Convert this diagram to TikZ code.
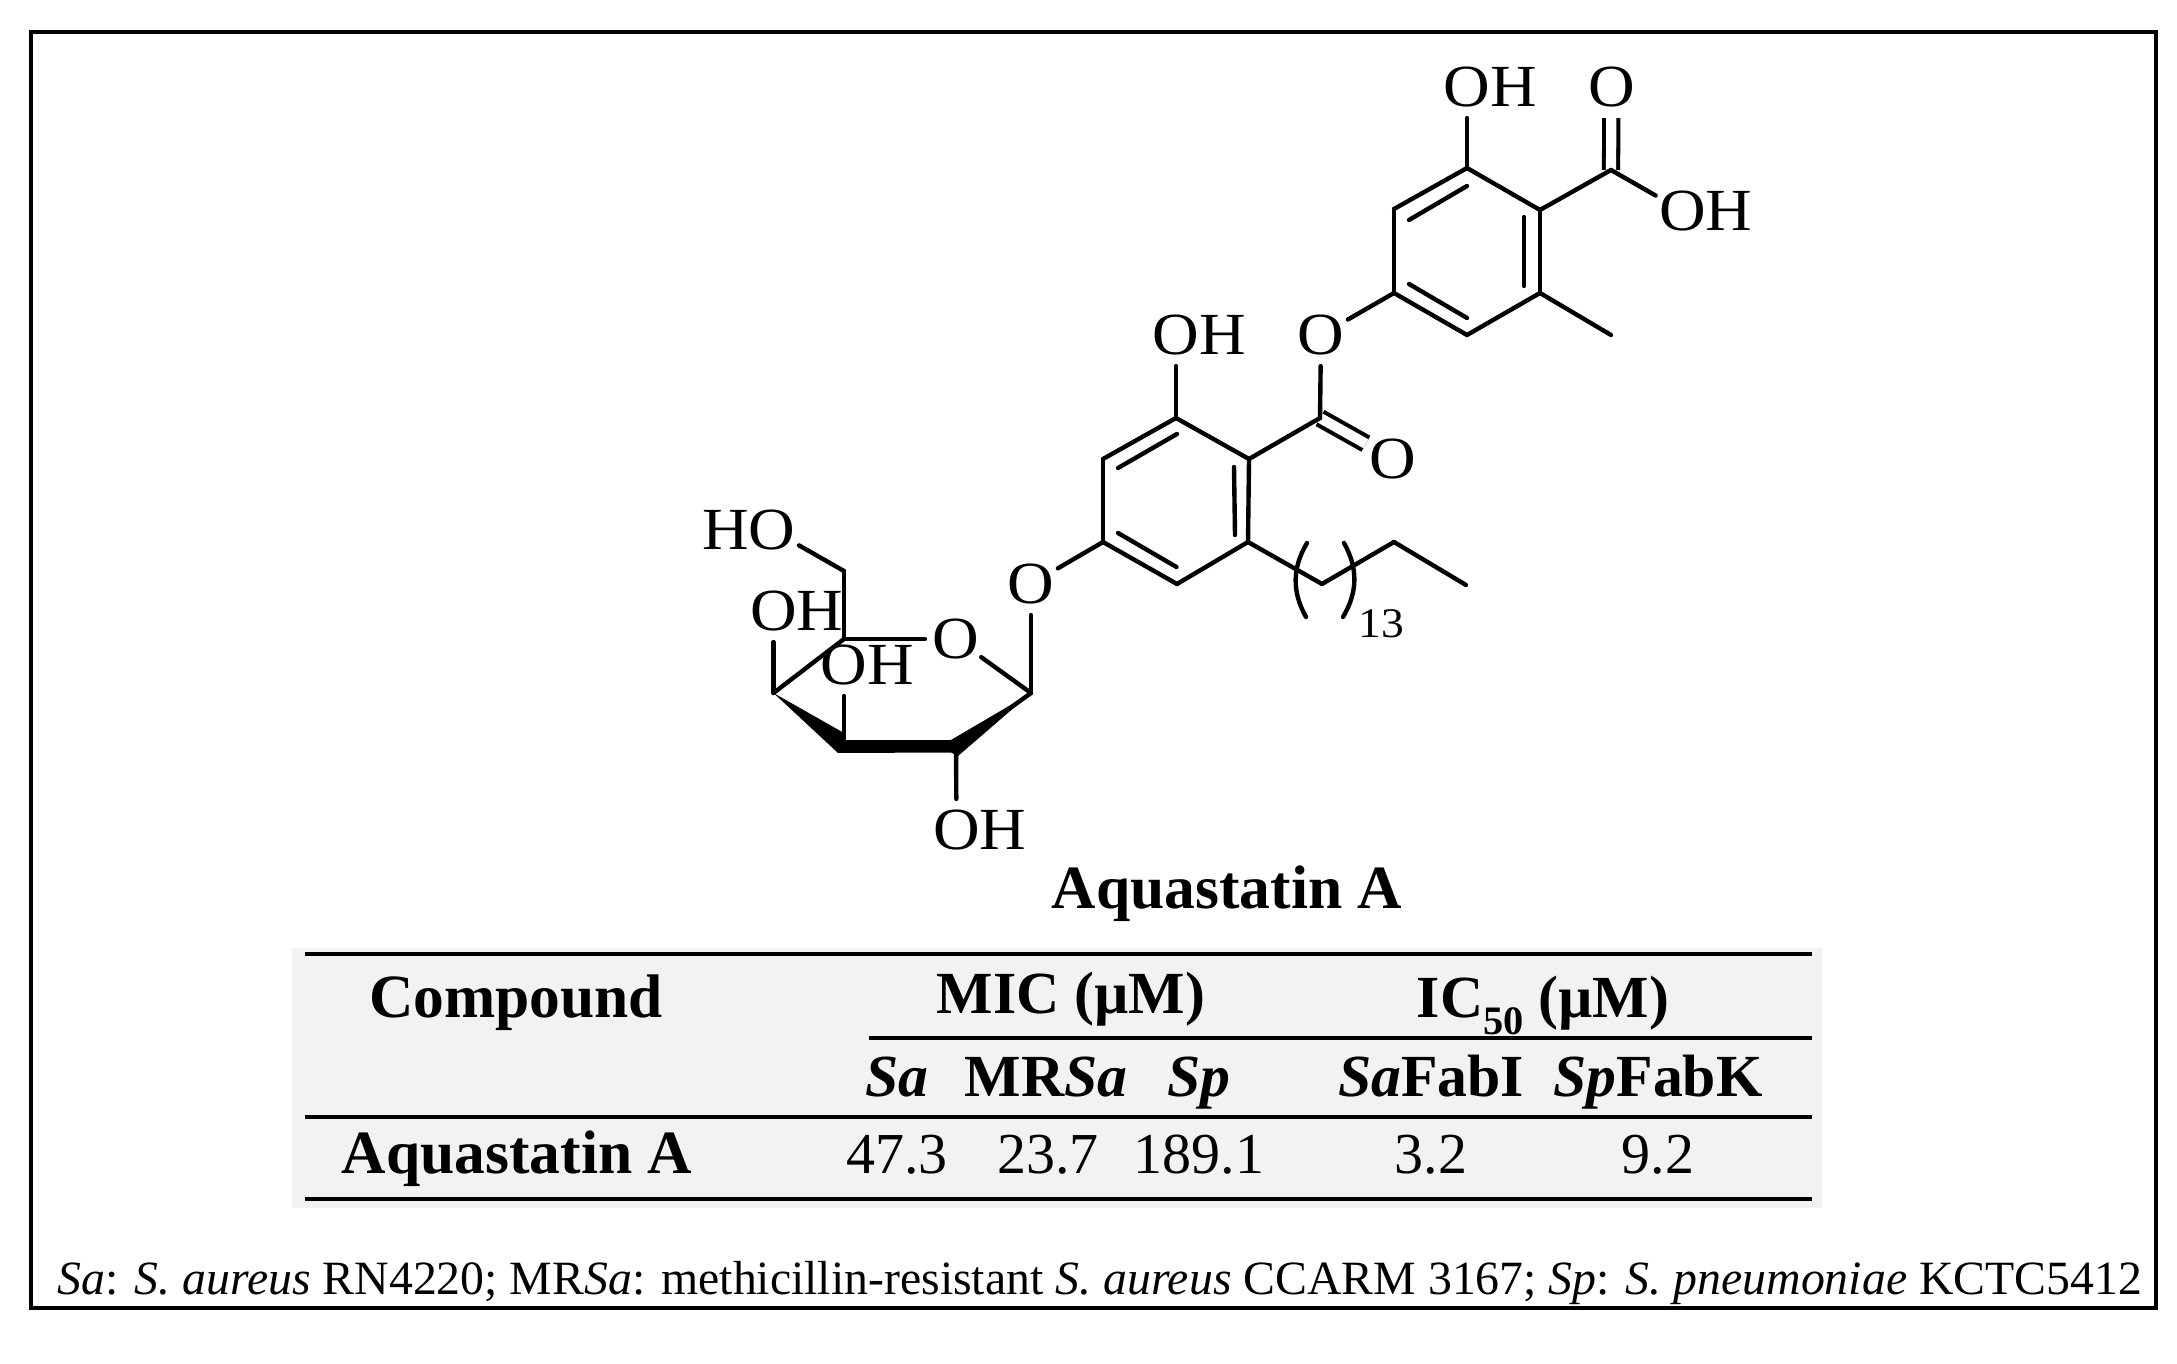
\documentclass[tikz,border=0pt]{standalone}
\usepackage{fontspec}
\setmainfont{Liberation Serif}
\newfontfamily\chemfont[FakeStretch=1.08]{Liberation Serif}
\tikzset{
  bond/.style={line width=2.5pt,line cap=round},
  dbl/.style={line width=2.3pt,double,double distance=5.8pt},
  rule/.style={line width=2.8pt},
  atom/.style={circle,inner sep=0pt,minimum size=1.12cm,font=\fontsize{34}{34}\chemfont},
  cell/.style={anchor=base,inner sep=0pt,font=\fontsize{33}{33}\selectfont},
  head/.style={cell,font=\fontsize{34}{34}\selectfont\bfseries},
  headbig/.style={cell,font=\fontsize{35}{35}\selectfont\bfseries}
}
\begin{document}
\begin{tikzpicture}[x=0.02cm,y=-0.02cm]
    \useasboundingbox (0,0) rectangle (2177,1364);
    \def\us{1467/168,1540/210,1540/293,1467/335,1394/293,1394/209,1611/335,1611/170,1176/418,1249/459,1248/542,1177/584,1103/542,1103/459,1320/418,1322/584,1394/542,1466/585,1031/693,956/747,844/747,773.5/693,844/639,844/571}
    %        1..6 top ring, 7 methyl, 8 acid, 9..14 lower ring, 15 ester, 16..18 chain, 19..24 sugar
    \foreach \ux/\uy [count=\i from 1] in \us {\coordinate (c\i) at (\ux,\uy);}
    \def\ins{1409/220,1467/186,1524/217,1524/286,1409/284,1467/318,1118/468,1177/434,1234/467,1235/535,1118/533,1176.5/567}
    \foreach \ux/\uy [count=\i from 1] in \ins {\coordinate (d\i) at (\ux,\uy);}
    \fill[gray!10] (292,948) rectangle (1822,1208);
    \draw[rule] (31,32) rectangle (2156,1308);
    % oxygens
    \node[atom] (o1) at (1467,87) {O\rlap{H}};
    \node[atom] (o2) at (1611.5,87) {O};
    \node[atom] (o3) at (1682.6,211) {O\rlap{H}};
    \node[atom] (o4) at (1176,335) {O\rlap{H}};
    \node[atom] (o5) at (1321,335) {O};
    \node[atom] (o6) at (1393,459) {O};
    \node[atom] (o7) at (1031,584) {O};
    \node[atom] (o8) at (772,530) {\llap{H}O};
    \node[atom] (o9) at (956,639) {O};
    \node[atom] (o10) at (773.5,611) {O\rlap{H}};
    \node[atom] (o11) at (844,665) {O\rlap{H}};
    \node[atom] (o12) at (956.5,830) {O\rlap{H}};
    \draw[dbl] (c8)--(o2);
    \draw[dbl] (c15)--(o6);
    \foreach \a/\b in {1/2,2/3,3/4,4/5,5/6,6/1,3/7,2/8,9/10,10/11,11/12,12/13,13/14,14/9,10/15,11/16,16/17,17/18,19/20,22/23,23/24}
      \draw[bond] (c\a)--(c\b);
    \foreach \a/\b in {1/2,3/4,5/6,7/8,9/10,11/12}
      \draw[bond] (d\a)--(d\b);
    \foreach \a/\b in {1/1,8/3,9/4,15/5,5/5,13/7,24/8,23/9,19/9,19/7,22/10,21/11,20/12}
      \draw[bond] (c\a)--(o\b);
    % bold front of the ring
    \fill (c22)--(844,733)--(844,740)--(951,740)--(c19)--(958,756)--(951,752.5)--(838,753)--cycle;
    % brackets of the chain
    \coordinate (p1) at (1307,543); \coordinate (p2) at (1306,617);
    \coordinate (p3) at (1344,543); \coordinate (p4) at (1343,617);
    \draw[bond] (p1) to[bend right=30] (p2);
    \draw[bond] (p3) to[bend left=30] (p4);
    \node[cell,font=\fontsize{24}{24}\chemfont] (n13) at (1381.5,638) {13};
    \node[headbig] (title) at (1227,908) {Aquastatin A};
    % table
    \foreach \y/\a/\b [count=\i from 1] in {954/305/1812,1038/869/1812,1117/305/1812,1199/305/1812} {
      \coordinate (r\i) at (\a,\y); \coordinate (s\i) at (\b,\y);
      \draw[rule] (r\i)--(s\i);}
    \node[headbig] (h1) at (516,1017) {Compound};
    \node[head] (h2) at (1071,1013) {MIC (µM)};
    \node[head] (h3) at (1543,1017) {IC\raisebox{-10pt}{\fontsize{23}{23}\selectfont 50} (µM)};
    \foreach \x/\t [count=\i from 1] in {897/\textit{Sa},1046/MR\textit{Sa},1199/\textit{Sp},1431/\textit{Sa}FabI,1658/\textit{Sp}FabK}
      \node[head] (t\i) at (\x,1096) {\t};
    \node[headbig] (a0) at (517,1173) {Aquastatin A};
    \foreach \x/\t [count=\i from 1] in {897/47.3,1048/23.7,1199/189.1,1431/3.2,1658/9.2}
      \node[cell] (a\i) at (\x,1173) {\t};
    \node[cell,font=\fontsize{27.2}{27.2}\selectfont] (note) at (1100,1294) {\textit{Sa}: \textit{S. aureus} RN4220; MR\textit{Sa}: methicillin-resistant \textit{S. aureus} CCARM 3167; \textit{Sp}: \textit{S. pneumoniae} KCTC5412};
\end{tikzpicture}
\end{document}
